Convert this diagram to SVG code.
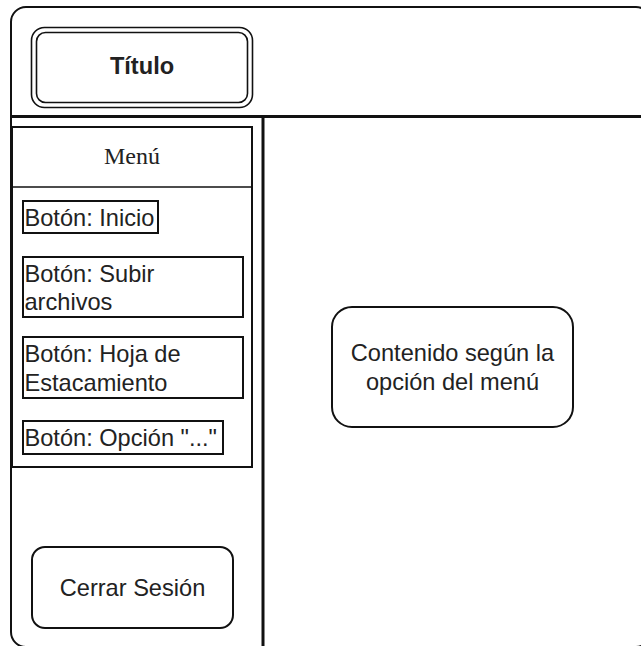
<svg xmlns="http://www.w3.org/2000/svg" width="641" height="646" viewBox="0 0 641 646">
  <style>
    .box { fill: #ffffff; stroke: #111111; stroke-width: 2; }
    .thin { fill: none; stroke: #111111; stroke-width: 1.6; }
    .rule { fill: none; stroke: #111111; stroke-width: 3; }
    .lbl { font-family: "Liberation Sans", Arial, sans-serif; font-size: 23.6px; fill: #222222; }
    .mid { text-anchor: middle; }
    .serif { font-family: "Liberation Serif", "Times New Roman", serif; font-size: 24px; fill: #222222; }
  </style>
  <rect width="641" height="646" fill="#ffffff"/>

  <!-- page frame with header and sidebar dividers -->
  <g id="frame">
    <rect class="box" x="11" y="7" width="640" height="640" rx="15" ry="15"/>
    <line class="rule" x1="11" y1="116.5" x2="641" y2="116.5"/>
    <line class="rule" x1="263" y1="116.5" x2="263" y2="646"/>
  </g>

  <g id="titulo">
    <rect class="thin" x="31.5" y="27.5" width="221" height="80" rx="13" ry="13"/>
    <rect class="thin" x="36.5" y="32.5" width="211" height="70" rx="9" ry="9"/>
    <text class="lbl mid" x="142" y="74" font-weight="bold">Título</text>
  </g>

  <g id="menu">
    <rect class="box" x="12" y="127" width="240" height="340"/>
    <line class="thin" x1="12" y1="187" x2="252" y2="187"/>
    <text class="serif mid" x="132" y="164">Menú</text>
  </g>

  <g id="btn-inicio">
    <rect class="box" x="23" y="201" width="135" height="32"/>
    <text class="lbl" x="24.5" y="226">Botón: Inicio</text>
  </g>

  <g id="btn-subir">
    <rect class="box" x="23" y="257" width="220" height="60"/>
    <text class="lbl" x="24.5" y="281.5">Botón: Subir</text>
    <text class="lbl" x="24.5" y="310">archivos</text>
  </g>

  <g id="btn-hoja">
    <rect class="box" x="23" y="337" width="220" height="61"/>
    <text class="lbl" x="24.5" y="362">Botón: Hoja de</text>
    <text class="lbl" x="24.5" y="390.5">Estacamiento</text>
  </g>

  <g id="btn-opcion">
    <rect class="box" x="23" y="421" width="200" height="33"/>
    <text class="lbl" x="24.5" y="446">Botón: Opción "..."</text>
  </g>

  <g id="cerrar-sesion">
    <rect class="box" x="32" y="547" width="201" height="81" rx="13" ry="13"/>
    <text class="lbl mid" x="132.5" y="596">Cerrar Sesión</text>
  </g>

  <g id="contenido">
    <rect class="box" x="332" y="307" width="241" height="120" rx="20" ry="20"/>
    <text class="lbl mid" x="452.5" y="361">Contenido según la</text>
    <text class="lbl mid" x="452.5" y="390">opción del menú</text>
  </g>

  <!-- no connectors in this layout -->
  <g id="connectors"/>
</svg>
